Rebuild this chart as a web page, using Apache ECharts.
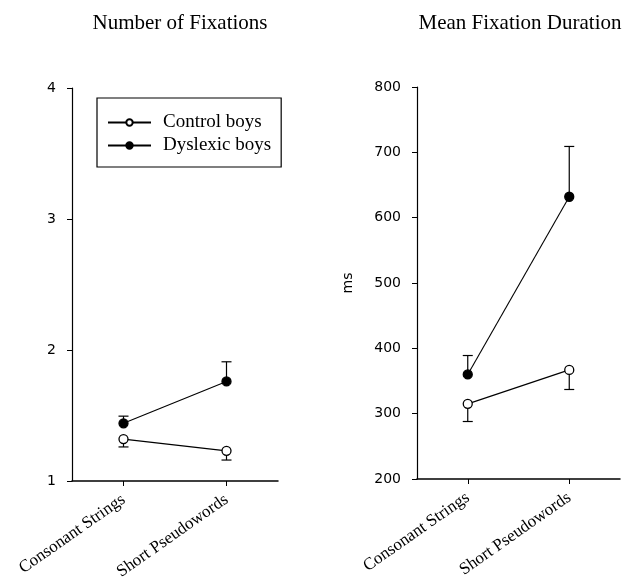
<!DOCTYPE html>
<html><head><meta charset="utf-8">
<script src="https://cdn.jsdelivr.net/npm/echarts@6/dist/echarts.min.js"></script>
<style>html,body{margin:0;padding:0;background:#fff}#c{width:623px;height:587px}</style>
</head><body><div id="c"></div>
<script>
var categories = ['Consonant Strings', 'Short Pseudowords'];
var fixTicks = [1, 4, 1];      // min, max, interval
var durTicks = [200, 800, 100];
var fixControl = [1.32, 1.23];
var fixControlErr = [0.06, 0.07];
var fixDyslexic = [1.44, 1.76];
var fixDyslexicErr = [0.055, 0.15];
var durControl = [315, 367];
var durControlErr = [27, 30];
var durDyslexic = [360, 632];
var durDyslexicErr = [29, 77];

var chart = echarts.init(document.getElementById('c'), null, {renderer: 'canvas'});

function errData(vals, errs, dir) {
  return vals.map(function (v, i) { return [i, v, v + dir * errs[i]]; });
}
function errSeries(xi, data) {
  return {
    type: 'custom', xAxisIndex: xi, yAxisIndex: xi, z: 1, silent: true,
    renderItem: function (params, api) {
      var p0 = api.coord([api.value(0), api.value(1)]);
      var p1 = api.coord([api.value(0), api.value(2)]);
      var w = 5;
      return {
        type: 'group',
        children: [
          {type: 'line', shape: {x1: p0[0], y1: p0[1], x2: p1[0], y2: p1[1]}, style: {stroke: '#000', lineWidth: 1.2}},
          {type: 'line', shape: {x1: p1[0] - w, y1: p1[1], x2: p1[0] + w, y2: p1[1]}, style: {stroke: '#000', lineWidth: 1.2}}
        ]
      };
    },
    encode: {x: 0, y: [1, 2]},
    data: data
  };
}
function lineSeries(name, xi, vals, filled) {
  return {
    name: name, type: 'line', xAxisIndex: xi, yAxisIndex: xi, z: 3,
    data: vals, symbol: 'circle', symbolSize: 9, showSymbol: true,
    lineStyle: {color: '#000', width: 1.1},
    itemStyle: {color: filled ? '#000' : '#fff', borderColor: '#000', borderWidth: 1.3},
    emphasis: {disabled: true}
  };
}
function xAx(gi) {
  return {
    type: 'category', gridIndex: gi, data: categories, boundaryGap: true,
    axisLine: {lineStyle: {color: '#000', width: 1.5}},
    axisTick: {show: true, alignWithLabel: true, length: 5, lineStyle: {color: '#000'}},
    axisLabel: {rotate: 35, color: '#000', fontFamily: 'Liberation Serif', fontSize: 17, margin: 17, interval: 0}
  };
}
function yAx(gi, t, name) {
  return {
    type: 'value', gridIndex: gi, min: t[0], max: t[1], interval: t[2],
    name: name || '', nameLocation: 'middle', nameGap: 62, nameRotate: 90,
    nameTextStyle: {color: '#000', fontFamily: 'DejaVu Sans', fontSize: 14},
    axisLine: {show: true, lineStyle: {color: '#000', width: 1.2}},
    axisTick: {show: true, length: 5, lineStyle: {color: '#000'}},
    splitLine: {show: false},
    axisLabel: {color: '#000', fontFamily: 'DejaVu Sans', fontSize: 14, margin: 16}
  };
}

chart.setOption({
  animation: false,
  backgroundColor: '#fff',
  title: [
    {text: 'Number of Fixations', left: 175, top: 8, textAlign: 'center',
     textStyle: {fontFamily: 'Liberation Serif', fontSize: 21, fontWeight: 'normal', color: '#000'}},
    {text: 'Mean Fixation Duration', left: 515, top: 8, textAlign: 'center',
     textStyle: {fontFamily: 'Liberation Serif', fontSize: 21, fontWeight: 'normal', color: '#000'}}
  ],
  legend: {
    data: ['Control boys', 'Dyslexic boys'], orient: 'vertical',
    left: 97, top: 98, itemWidth: 43, itemHeight: 8, itemGap: 4,
    padding: [15, 10, 12, 10], borderColor: '#000', borderWidth: 1.2,
    textStyle: {fontFamily: 'Liberation Serif', fontSize: 19, lineHeight: 19, color: '#000', padding: [0, 0, 0, 7]},
    selectedMode: false
  },
  grid: [
    {left: 72, top: 88, width: 206, height: 393},
    {left: 417, top: 87, width: 203, height: 392}
  ],
  xAxis: [xAx(0), xAx(1)],
  yAxis: [yAx(0, fixTicks), yAx(1, durTicks, 'ms')],
  series: [
    errSeries(0, errData(fixControl, fixControlErr, -1)),
    errSeries(0, errData(fixDyslexic, fixDyslexicErr, 1)),
    errSeries(1, errData(durControl, durControlErr, -1)),
    errSeries(1, errData(durDyslexic, durDyslexicErr, 1)),
    lineSeries('Control boys', 0, fixControl, false),
    lineSeries('Dyslexic boys', 0, fixDyslexic, true),
    lineSeries('Control boys', 1, durControl, false),
    lineSeries('Dyslexic boys', 1, durDyslexic, true)
  ]
});
</script></body></html>
